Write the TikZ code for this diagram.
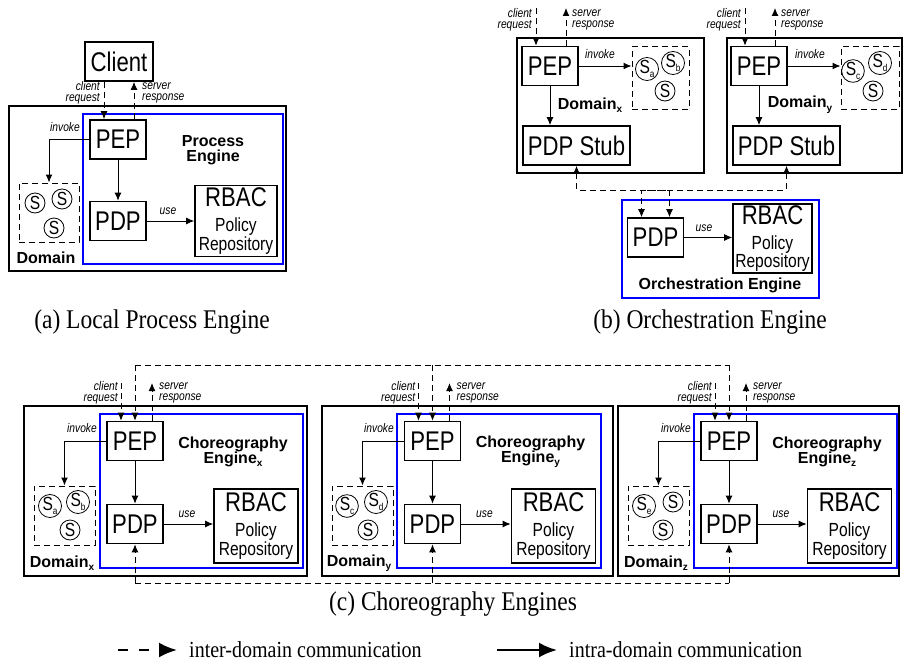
\documentclass[tikz,border=0pt]{standalone}
\usepackage{fontspec}
\usepackage{tikz}
\usetikzlibrary{arrows.meta}
\usetikzlibrary{positioning}
\usetikzlibrary{calc}

\newfontfamily\narrowsans[FakeStretch=0.82]{Liberation Sans}
\newfontfamily\plainsans{Liberation Sans}
\newfontfamily\narrowserif[FakeStretch=0.87]{Liberation Serif}
\newcommand{\bigfnt}{\narrowsans\fontsize{27}{27}\selectfont}
\newcommand{\repofnt}{\narrowsans\fontsize{19}{17}\selectfont}
\newcommand{\svcfnt}{\narrowsans\fontsize{19}{19}\selectfont}
\newcommand{\notefnt}{\narrowsans\itshape\fontsize{12.5}{11}\selectfont}
\newcommand{\titlefnt}{\plainsans\bfseries\fontsize{16}{15}\selectfont}
\newcommand{\capfnt}{\narrowserif\fontsize{27}{27}\selectfont}
\newcommand{\legfnt}{\narrowserif\fontsize{23}{23}\selectfont}
\newcommand{\lowsub}[1]{\raisebox{-0.22em}{\fontsize{10}{10}\selectfont #1}}
\newcommand{\repotext}{{\bigfnt RBAC}\\[8pt]Policy\\Repository}

\tikzstyle{blk}=[draw, line width=1.6pt, minimum width=56pt, minimum height=39pt, inner sep=0pt, font=\bigfnt]
\tikzstyle{stub}=[blk, minimum width=107pt]
\tikzstyle{repo}=[draw, line width=1.6pt, minimum width=82pt, minimum height=71pt, inner sep=0pt, align=center, font=\repofnt]
\tikzstyle{svc}=[circle, draw, line width=0.8pt, minimum size=20pt, inner sep=0pt, font=\svcfnt]
\tikzstyle{grp}=[draw, line width=1pt, dash pattern=on 6pt off 4pt]
\tikzstyle{dom}=[draw, line width=1.8pt]
\tikzstyle{eng}=[draw=blue, line width=2.8pt]
\tikzstyle{inter}=[line width=1pt, dash pattern=on 6pt off 4pt]
\tikzstyle{intra}=[line width=1pt]
\tikzstyle{note}=[font=\notefnt, inner sep=1pt]
\tikzstyle{title}=[font=\titlefnt, align=center, inner sep=0pt]
\tikzstyle{capt}=[font=\capfnt, inner sep=0pt]
\tikzstyle{leg}=[font=\legfnt, inner sep=0pt, anchor=west]
\tikzstyle{legline}=[line width=2.5pt, shorten >=12pt, -{Latex[length=18pt,width=15pt]}]

\begin{document}
\begin{tikzpicture}[x=1pt,y=-1pt,>={Latex[length=8pt,width=7pt]}]
  \useasboundingbox (0,0) rectangle (904,669);

  % (a) local process engine
  \draw[dom] (9,106) rectangle (286,271);
  \draw[eng] (83,114) rectangle (283,264);
  \node[blk, minimum width=68pt] (client) at (119,61.5) {Client};
  \node[blk] (pepA) at (118,139.5) {PEP};
  \node[blk] (pdpA) [below of=pepA, node distance=81.5pt] {PDP};
  \node[repo] (rbacA) [right of=pdpA, node distance=118pt] {\repotext};
  \node[grp, minimum width=60pt, minimum height=59pt] (grpA) at (49,212.5) {};
  \node[svc] (sA1) at (35,203) {S};
  \node[svc] (sA2) at (62,199) {S};
  \node[svc] (sA3) at (54,228) {S};
  \node[title] (engA) at (213,150.5) {Process\\Engine};
  \node[title] (domA) at (46,258) {Domain};
  \node[note, anchor=east] (invA) at (81,127) {invoke};
  \node[note] (useA) at (168,211) {use};
  \node[note, anchor=east, align=right] (reqA) at (101,93) {client\\request};
  \node[note, anchor=west, align=left] (resA) at (141,93) {server\\response};

  \draw[intra,->] (pepA.west) -| (grpA.north);
  \draw[intra,->] (pepA) -- (pdpA);
  \draw[intra,->] (pdpA.east) -- (pdpA.east -| rbacA.west);
  \draw[inter,->] ([xshift=-14pt]pepA.north |- client.south) -- ([xshift=-14pt]pepA.north);
  \draw[inter,->] ([xshift=16pt]pepA.north) -- ([xshift=16pt]pepA.north |- client.south);

  \node[capt] (capA) at (152,322) {(a) Local Process Engine};

  % (b) orchestration engine
  \coordinate (topB) at (0,8);
  \coordinate (busO) at (0,190);
  \draw[dom] (517,38) rectangle (704,173);
  \node[blk] (pepX) at (550,66) {PEP};
  \node[stub] (stubX) at (576.5,145.5) {PDP Stub};
  \node[grp, minimum width=57pt, minimum height=62pt] (grpX) at (660.5,78) {};
  \node[svc] (sXa) at (647,69) {S\lowsub{a}};
  \node[svc] (sXb) at (673,63) {S\lowsub{b}};
  \node[svc] (sX) at (665,91) {S};
  \node[title] (domX) at (590,105) {Domain\lowsub{x}};
  \node[note] (invX) at (600,54) {invoke};
  \node[note, anchor=east, align=right] (reqX) at (533,20) {client\\request};
  \node[note, anchor=west, align=left] (resX) at (571,20) {server\\response};

  \draw[dom] (727,38) rectangle (902,173);
  \node[blk] (pepY) [right of=pepX, node distance=209pt] {PEP};
  \node[stub] (stubY) at (786.5,145.5) {PDP Stub};
  \node[grp, minimum width=58pt, minimum height=62pt] (grpY) at (870,78) {};
  \node[svc] (sYc) at (853,71) {S\lowsub{c}};
  \node[svc] (sYd) at (880,63) {S\lowsub{d}};
  \node[svc] (sY) at (873,91) {S};
  \node[title] (domY) at (800,105) {Domain\lowsub{y}};
  \node[note] (invY) at (810,54) {invoke};
  \node[note, anchor=east, align=right] (reqY) at (742,20) {client\\request};
  \node[note, anchor=west, align=left] (resY) at (780,20) {server\\response};

  \draw[eng] (622,200) rectangle (819,298);
  \node[blk] (pdpO) at (655.5,237.5) {PDP};
  \node[repo, minimum width=79pt, minimum height=69pt] (rbacO) at (772.5,238.5) {\repotext};
  \node[note] (useO) at (704,228) {use};
  \node[title] (engO) at (720,285) {Orchestration Engine};

  \draw[intra,->] (pepX.east) -- (pepX.east -| grpX.west);
  \draw[intra,->] (pepX) -- (pepX |- stubX.north);
  \draw[intra,->] (pepY.east) -- (pepY.east -| grpY.west);
  \draw[intra,->] (pepY) -- (pepY |- stubY.north);
  \draw[intra,->] (pdpO.east) -- (pdpO.east -| rbacO.west);
  \draw[inter,->] ([xshift=-14pt]pepX.north |- topB) -- ([xshift=-14pt]pepX.north);
  \draw[inter,->] ([xshift=16pt]pepX.north) -- ([xshift=16pt]pepX.north |- topB);
  \draw[inter,->] ([xshift=-14pt]pepY.north |- topB) -- ([xshift=-14pt]pepY.north);
  \draw[inter,->] ([xshift=16pt]pepY.north) -- ([xshift=16pt]pepY.north |- topB);
  \draw[inter,<->] (stubX.south) -- (stubX.south |- busO) -| ([xshift=14pt]pdpO.north);
  \draw[inter,<->] (stubY.south) -- (stubY.south |- busO) -| ([xshift=-14pt]pdpO.north);

  \node[capt] (capB) at (710,322) {(b) Orchestration Engine};

  % (c) choreography engines
  \coordinate (topC) at (0,383);
  \coordinate (busT) at (0,365);
  \coordinate (busB) at (0,583);

  % domain x
  \draw[dom] (24,406) rectangle (307,576);
  \draw[eng] (100,414) rectangle (303,568);
  \node[blk] (pepCx) at (135,441) {PEP};
  \node[blk] (pdpCx) [below of=pepCx, node distance=83pt] {PDP};
  \node[repo, minimum width=84pt, minimum height=74pt] (rbacCx) at (256,526) {\repotext};
  \node[grp, minimum width=61pt, minimum height=59pt] (grpCx) at (64.5,515.5) {};
  \node[svc] (sCa) at (50,506) {S\lowsub{a}};
  \node[svc] (sCb) at (78,502) {S\lowsub{b}};
  \node[svc] (sCx) at (70,530) {S};
  \node[note, anchor=east] (invCx) at (98,428) {invoke};
  \node[title] (engCx) at (233,451.5) {Choreography\\Engine\lowsub{x}};
  \node[title] (domCx) at (62,563) {Domain\lowsub{x}};
  \node[note] (useCx) at (187,514) {use};
  \node[note, anchor=east, align=right] (reqCx) at (119,393) {client\\request};
  \node[note, anchor=west, align=left] (resCx) at (158,393) {server\\response};

  % domain y
  \draw[dom] (322,406) rectangle (613,576);
  \draw[eng] (397,414) rectangle (601,568);
  \node[blk] (pepCy) [right of=pepCx, node distance=297.5pt] {PEP};
  \node[blk] (pdpCy) [below of=pepCy, node distance=83pt] {PDP};
  \node[repo, minimum width=84pt, minimum height=74pt] (rbacCy) at (553.5,526) {\repotext};
  \node[grp, minimum width=61pt, minimum height=59pt] (grpCy) at (362.5,515.5) {};
  \node[svc] (sCc) at (347,506) {S\lowsub{c}};
  \node[svc] (sCd) at (376,502) {S\lowsub{d}};
  \node[svc] (sCy) at (368,530) {S};
  \node[note, anchor=east] (invCy) at (395,428) {invoke};
  \node[title] (engCy) at (530.5,451.5) {Choreography\\Engine\lowsub{y}};
  \node[title] (domCy) at (359,563) {Domain\lowsub{y}};
  \node[note] (useCy) at (484.5,514) {use};
  \node[note, anchor=east, align=right] (reqCy) at (416.5,393) {client\\request};
  \node[note, anchor=west, align=left] (resCy) at (455.5,393) {server\\response};

  % domain z
  \draw[dom] (618,406) rectangle (899,576);
  \draw[eng] (694,414) rectangle (897,568);
  \node[blk] (pepCz) [right of=pepCy, node distance=296.5pt] {PEP};
  \node[blk] (pdpCz) [below of=pepCz, node distance=83pt] {PDP};
  \node[repo, minimum width=84pt, minimum height=74pt] (rbacCz) at (849.5,526) {\repotext};
  \node[grp, minimum width=61pt, minimum height=59pt] (grpCz) at (658.5,515.5) {};
  \node[svc] (sCe) at (644,506) {S\lowsub{e}};
  \node[svc] (sCz1) at (673,502) {S};
  \node[svc] (sCz2) at (663,530) {S};
  \node[note, anchor=east] (invCz) at (692,428) {invoke};
  \node[title] (engCz) at (827,451.5) {Choreography\\Engine\lowsub{z}};
  \node[title] (domCz) at (656,563) {Domain\lowsub{z}};
  \node[note] (useCz) at (781,514) {use};
  \node[note, anchor=east, align=right] (reqCz) at (713,393) {client\\request};
  \node[note, anchor=west, align=left] (resCz) at (752,393) {server\\response};

  \draw[intra,->] (pepCx.west) -| (grpCx.north);
  \draw[intra,->] (pepCx) -- (pdpCx);
  \draw[intra,->] (pdpCx.east) -- (pdpCx.east -| rbacCx.west);
  \draw[intra,->] (pepCy.west) -| (grpCy.north);
  \draw[intra,->] (pepCy) -- (pdpCy);
  \draw[intra,->] (pdpCy.east) -- (pdpCy.east -| rbacCy.west);
  \draw[intra,->] (pepCz.west) -| (grpCz.north);
  \draw[intra,->] (pepCz) -- (pdpCz);
  \draw[intra,->] (pdpCz.east) -- (pdpCz.east -| rbacCz.west);

  \draw[inter,->] ([xshift=-14pt]pepCx.north |- topC) -- ([xshift=-14pt]pepCx.north);
  \draw[inter,->] ([xshift=17pt]pepCx.north) -- ([xshift=17pt]pepCx.north |- topC);
  \draw[inter,->] ([xshift=-14pt]pepCy.north |- topC) -- ([xshift=-14pt]pepCy.north);
  \draw[inter,->] ([xshift=17pt]pepCy.north) -- ([xshift=17pt]pepCy.north |- topC);
  \draw[inter,->] ([xshift=-14pt]pepCz.north |- topC) -- ([xshift=-14pt]pepCz.north);
  \draw[inter,->] ([xshift=17pt]pepCz.north) -- ([xshift=17pt]pepCz.north |- topC);

  % inter-domain bus on top and below
  \draw[inter] (pepCx.north |- busT) -- (pepCz.north |- busT);
  \draw[inter,->] (pepCx.north |- busT) -- (pepCx.north);
  \draw[inter,->] (pepCy.north |- busT) -- (pepCy.north);
  \draw[inter,->] (pepCz.north |- busT) -- (pepCz.north);
  \draw[inter] (pdpCx.south |- busB) -- (pdpCz.south |- busB);
  \draw[inter,->] (pdpCx.south |- busB) -- (pdpCx.south);
  \draw[inter,->] (pdpCy.south |- busB) -- (pdpCy.south);
  \draw[inter,->] (pdpCz.south |- busB) -- (pdpCz.south);

  \node[capt] (capC) at (453,604) {(c) Choreography Engines};

  % legend
  \coordinate (legA) at (118,650);
  \coordinate (legB) at (497,650);
  \node[leg] (legInter) at (189,650) {inter-domain communication};
  \node[leg] (legIntra) at (569,650) {intra-domain communication};
  \draw[legline, dash pattern=on 10pt off 11pt] (legA) -- (legInter.west);
  \draw[legline] (legB) -- (legIntra.west);
\end{tikzpicture}
\end{document}
